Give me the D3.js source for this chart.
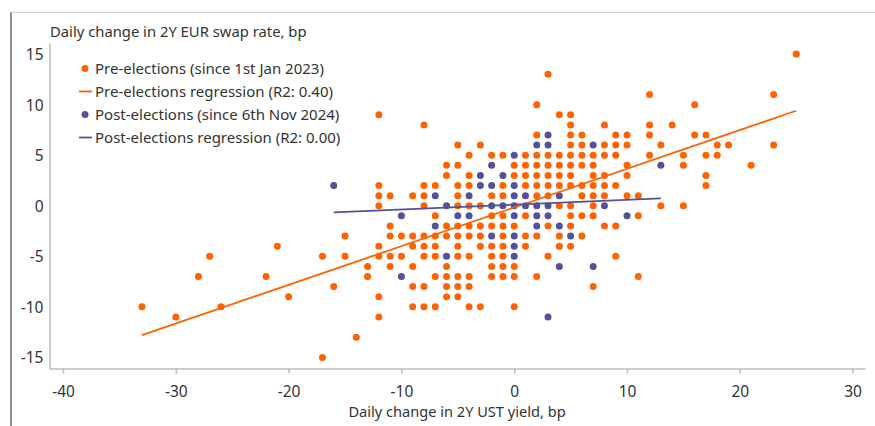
<!DOCTYPE html>
<html><head><meta charset="utf-8">
<script src="https://cdn.jsdelivr.net/npm/d3@7"></script>
<style>body{margin:0;background:#fff}svg{display:block}text{font-family:"Noto Sans",sans-serif;fill:#333}</style>
</head><body><svg id="c" width="875" height="426"></svg>
<script>
const xTicks = [-40, -30, -20, -10, 0, 10, 20, 30];
const yTicks = [-15, -10, -5, 0, 5, 10, 15];
const xTitle = "Daily change in 2Y UST yield, bp";
const yTitle = "Daily change in 2Y EUR swap rate, bp";
const legendLabels = ["Pre-elections (since 1st Jan 2023)", "Pre-elections regression (R2: 0.40)",
  "Post-elections (since 6th Nov 2024)", "Post-elections regression (R2: 0.00)"];

// [x, y] daily changes, bp
const prePoints = [
  [25,15],[3,13],[12,11],[23,11],[2,10],[16,10],[-12,9],[4,9],[5,9],
  [-8,8],[5,8],[8,8],[12,8],[14,8],
  [2,7],[5,7],[6,7],[9,7],[10,7],[12,7],[16,7],[17,7],
  [-5,6],[-3,6],[5,6],[6,6],[8,6],[9,6],[10,6],[13,6],[18,6],[19,6],[23,6],
  [-4,5],[-2,5],[-1,5],[1,5],[2,5],[3,5],[4,5],[5,5],[6,5],[7,5],[8,5],[9,5],[12,5],[15,5],[17,5],[18,5],
  [-6,4],[-5,4],[0,4],[1,4],[2,4],[3,4],[4,4],[5,4],[6,4],[7,4],[10,4],[15,4],[21,4],
  [-6,3],[-4,3],[0,3],[1,3],[2,3],[3,3],[4,3],[5,3],[7,3],[8,3],[10,3],[17,3],
  [-12,2],[-8,2],[-7,2],[-5,2],[-4,2],[-1,2],[1,2],[2,2],[3,2],[4,2],[5,2],[6,2],[7,2],[8,2],[9,2],[17,2],
  [-12,1],[-11,1],[-9,1],[-8,1],[-5,1],[-2,1],[-1,1],[2,1],[3,1],[6,1],[7,1],[8,1],[10,1],[11,1],
  [-12,0],[-8,0],[-5,0],[-4,0],[-3,0],[4,0],[5,0],[7,0],[13,0],[15,0],
  [-7,-1],[-2,-1],[-1,-1],[1,-1],[5,-1],[6,-1],[7,-1],[11,-1],
  [-11,-2],[-6,-2],[-5,-2],[-4,-2],[-3,-2],[-2,-2],[-1,-2],[0,-2],[3,-2],[5,-2],[8,-2],[9,-2],
  [-15,-3],[-11,-3],[-10,-3],[-9,-3],[-8,-3],[-7,-3],[-6,-3],[-5,-3],[-4,-3],[-3,-3],[-1,-3],[1,-3],[2,-3],[4,-3],[6,-3],
  [-21,-4],[-12,-4],[-9,-4],[-8,-4],[-7,-4],[-5,-4],[-3,-4],[-2,-4],[-1,-4],[1,-4],[4,-4],[5,-4],
  [-27,-5],[-17,-5],[-15,-5],[-12,-5],[-11,-5],[-10,-5],[-8,-5],[-7,-5],[-5,-5],[-4,-5],[-2,-5],[-1,-5],[3,-5],[9,-5],
  [-13,-6],[-11,-6],[-9,-6],[-6,-6],[-2,-6],[-1,-6],[0,-6],
  [-28,-7],[-22,-7],[-13,-7],[-7,-7],[-6,-7],[-5,-7],[-4,-7],[-2,-7],[-1,-7],[0,-7],[2,-7],[11,-7],
  [-16,-8],[-9,-8],[-8,-8],[-6,-8],[-5,-8],[-4,-8],[7,-8],
  [-20,-9],[-12,-9],[-6,-9],[-5,-9],
  [-33,-10],[-26,-10],[-9,-10],[-8,-10],[-7,-10],[-4,-10],[-3,-10],[0,-10],
  [-30,-11],[-12,-11],[-14,-13],[-17,-15]
];
const postPoints = [
  [3,7],[2,6],[3,6],[7,6],[0,5],[-2,4],[13,4],[-3,3],[-1,3],
  [-16,2],[-3,2],[-2,2],[0,2],
  [-7,1],[-4,1],[0,1],[1,1],[4,1],
  [-6,0],[-2,0],[-1,0],[0,0],[1,0],[2,0],[3,0],[8,0],
  [-10,-1],[-5,-1],[-4,-1],[0,-1],[2,-1],[3,-1],[10,-1],
  [-7,-2],[2,-2],[4,-2],[-2,-3],[0,-3],[5,-3],[0,-4],[-6,-5],[0,-5],
  [4,-6],[7,-6],[-10,-7],[3,-11]
];
// regression lines, endpoints [x, y]
const preRegression = [[-33, -12.8], [25, 9.4]];
const postRegression = [[-16, -0.66], [13, 0.73]];

const ORANGE = "#FF6200", PURPLE = "#525199";
const svg = d3.select("#c");
const x = d3.scaleLinear().domain([-41.2, 31.1]).range([49.5, 865]);
const y = d3.scaleLinear().domain([-16.1, 16.1]).range([368.5, 43]);
const fmt = d => String(d);

// frame
svg.append("line").attr("x1", 11).attr("x2", 875).attr("y1", 12.5).attr("y2", 12.5).attr("stroke", "#d0d0d0");
svg.append("line").attr("x1", 11).attr("x2", 11).attr("y1", 12.5).attr("y2", 426).attr("stroke", "#222");

// axes
const xAxis = svg.append("g").attr("transform", `translate(0,${y(-16.1)})`)
  .call(d3.axisBottom(x).tickValues(xTicks).tickSize(5).tickSizeOuter(0).tickFormat(fmt));
xAxis.select(".domain").attr("stroke", "#bbb").attr("stroke-width", 1.5);
xAxis.selectAll(".tick line").attr("stroke", "#bbb").attr("stroke-width", 1.5);
xAxis.selectAll(".tick text").attr("dy", 0).attr("y", 28).style("font-size", "15.5px").style("font-family", '"Noto Sans",sans-serif').attr("fill", "#333");

const yAxis = svg.append("g").attr("transform", `translate(${x(-41.2)},0)`)
  .call(d3.axisLeft(y).tickValues(yTicks).tickSize(0).tickSizeOuter(0).tickFormat(fmt));
yAxis.select(".domain").attr("stroke", "#bbb").attr("stroke-width", 1.5);
yAxis.selectAll(".tick text").attr("x", -6).attr("dy", "0.36em").style("font-size", "15.5px").style("font-family", '"Noto Sans",sans-serif').attr("fill", "#333");

svg.append("text").attr("x", 50).attr("y", 36.5).style("font-size", "14.8px").text(yTitle);
svg.append("text").attr("x", 457).attr("y", 416.5).attr("text-anchor", "middle").style("font-size", "14.6px").text(xTitle);

// points
svg.append("g").selectAll("circle").data(prePoints).join("circle")
  .attr("cx", d => x(d[0])).attr("cy", d => y(d[1])).attr("r", 3.5).attr("fill", ORANGE);
svg.append("g").selectAll("circle").data(postPoints).join("circle")
  .attr("cx", d => x(d[0])).attr("cy", d => y(d[1])).attr("r", 3.5).attr("fill", PURPLE);

const line = d3.line().x(d => x(d[0])).y(d => y(d[1]));
svg.append("path").datum(preRegression).attr("d", line).attr("stroke", ORANGE).attr("stroke-width", 1.8).attr("fill", "none");
svg.append("path").datum(postRegression).attr("d", line).attr("stroke", PURPLE).attr("stroke-width", 1.8).attr("fill", "none");

// legend
const legendY = [68.5, 91.5, 114.5, 137.5];
const legendTypes = ["dot", "line", "dot", "line"];
const legendColors = [ORANGE, ORANGE, PURPLE, PURPLE];
const lg = svg.append("g");
legendLabels.forEach((lab, i) => {
  if (legendTypes[i] === "dot") {
    lg.append("circle").attr("cx", 85).attr("cy", legendY[i]).attr("r", 3.5).attr("fill", legendColors[i]);
  } else {
    lg.append("line").attr("x1", 79).attr("x2", 92).attr("y1", legendY[i]).attr("y2", legendY[i]).attr("stroke", legendColors[i]).attr("stroke-width", 1.8);
  }
  lg.append("text").attr("x", 95).attr("y", legendY[i]).attr("dy", "0.35em").style("font-size", "15px").text(lab);
});
</script></body></html>
